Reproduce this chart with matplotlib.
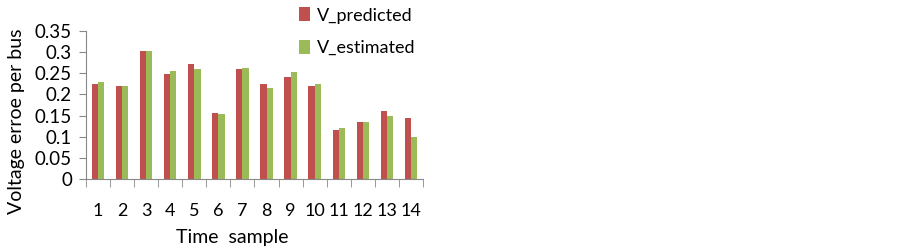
import matplotlib.pyplot as plt
import numpy as np

plt.rcParams['font.family'] = ['Lato', 'DejaVu Sans']

samples = ['1', '2', '3', '4', '5', '6', '7', '8', '9', '10', '11', '12', '13', '14']
v_predicted = [0.225, 0.219, 0.302, 0.249, 0.273, 0.157, 0.260, 0.225, 0.242, 0.219, 0.116, 0.134, 0.161, 0.144]
v_estimated = [0.229, 0.219, 0.302, 0.256, 0.260, 0.153, 0.263, 0.215, 0.253, 0.225, 0.120, 0.134, 0.148, 0.100]
yticks = [0, 0.05, 0.1, 0.15, 0.2, 0.25, 0.3, 0.35]
ytick_labels = ['0', '0.05', '0.1', '0.15', '0.2', '0.25', '0.3', '0.35']

fig = plt.figure(figsize=(9.02, 2.52), dpi=100)
ax = fig.add_axes([0.0953, 0.2897, 0.3737, 0.5873])

x = np.arange(1, len(samples) + 1)
w = 0.26
ax.bar(x - w/2, v_predicted, w, color='#C0504D', label='V_predicted')
ax.bar(x + w/2, v_estimated, w, color='#9BBB59', label='V_estimated')

ax.set_xlim(0.5, len(samples) + 0.5)
ax.set_ylim(0, 0.35)
ax.set_yticks(yticks)
ax.set_yticklabels(ytick_labels, fontsize=13.5)
ax.set_xticks(x)
ax.set_xticklabels(samples, fontsize=13)
ax.set_xticks(np.arange(0.5, len(samples) + 1), minor=True)
ax.tick_params(axis='x', which='major', length=0, pad=17)
ax.tick_params(axis='x', which='minor', length=6, color='#888888', direction='out')
ax.tick_params(axis='y', length=5, color='#888888', pad=5)

for s in ['top', 'right']:
    ax.spines[s].set_visible(False)
for s in ['left', 'bottom']:
    ax.spines[s].set_color('#888888')

ax.set_ylabel('Voltage erroe per bus', fontsize=14)
ax.yaxis.set_label_coords(-0.18, 0.39)
fig.text(0.258, 0.035, 'Time  sample', fontsize=14, ha='center')

ax.legend(loc='upper left', bbox_to_anchor=(0.314, 1.035), bbox_transform=fig.transFigure,
          frameon=False, fontsize=13, handlelength=0.6, handleheight=0.8,
          handletextpad=0.35, labelspacing=0.9)

plt.savefig('out.png', dpi=100)
